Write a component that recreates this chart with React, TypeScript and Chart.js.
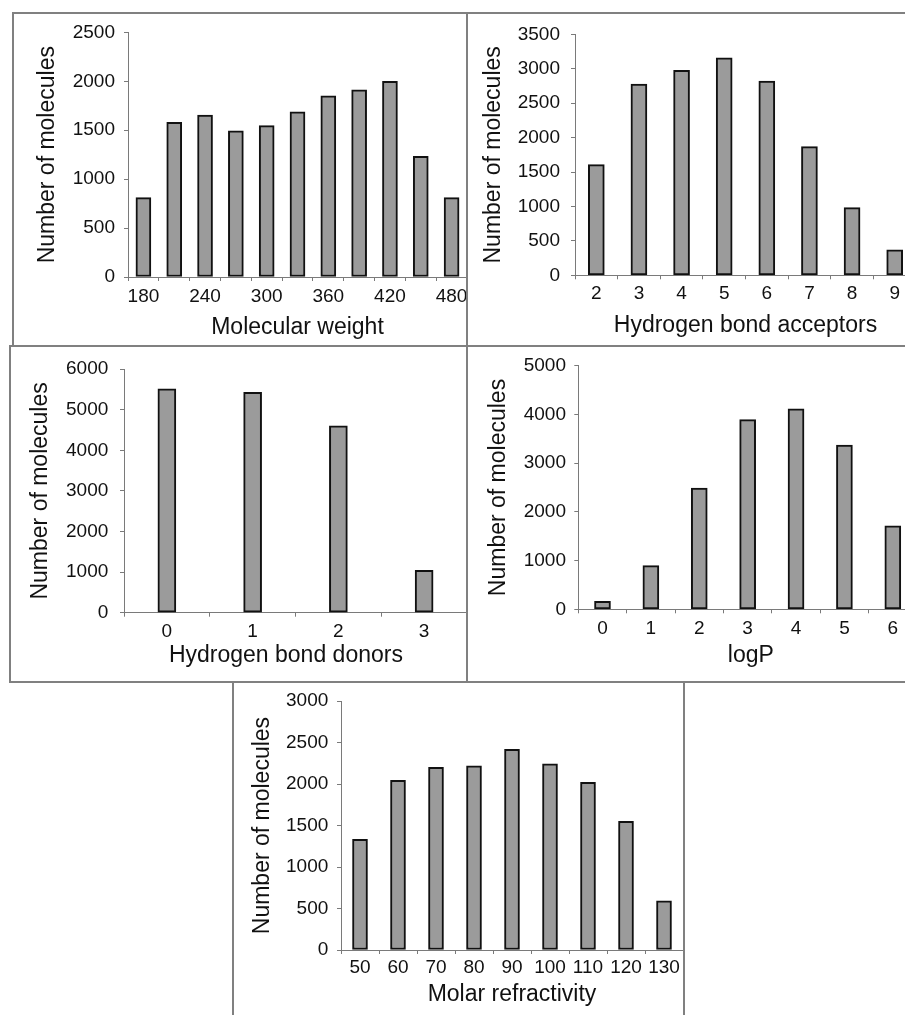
import React, { useEffect, useRef } from "react";
import { Chart, registerables } from "chart.js";

Chart.register(...registerables);
Chart.defaults.font.family = "'Liberation Sans', Arial, Helvetica, sans-serif";
Chart.defaults.color = "#111";

// ---------- data ----------
const yAxisTitle = "Number of molecules";

const mwLabels = ["180", "210", "240", "270", "300", "330", "360", "390", "420", "450", "480"];
const mwValues = [811, 1581, 1655, 1493, 1547, 1689, 1851, 1912, 2000, 1233, 811];

const hbaLabels = ["2", "3", "4", "5", "6", "7", "8", "9"];
const hbaValues = [1607, 2777, 2977, 3158, 2820, 1869, 984, 371];

const hbdLabels = ["0", "1", "2", "3"];
const hbdValues = [5517, 5429, 4601, 1046];

const logpLabels = ["0", "1", "2", "3", "4", "5", "6"];
const logpValues = [163, 897, 2486, 3893, 4117, 3370, 1712];

const mrLabels = ["50", "60", "70", "80", "90", "100", "110", "120", "130"];
const mrValues = [1335, 2044, 2203, 2219, 2418, 2243, 2020, 1550, 594];

// ---------- layout / style per panel ----------
type PanelCfg = {
  labels: string[];
  values: number[];
  xTitle: string;
  yMax: number;
  yStep: number;
  everyOther?: boolean;
  // canvas box (page coords)
  cl: number; ct: number; cw: number; ch: number;
  // chart area (page coords)
  ax: number; top: number; bottom: number; right: number;
  barW: number;
  yTickPad: number; xTickPad: number;
  yTitlePad: number; xTitlePad: number;
};

const panels: PanelCfg[] = [
  {
    labels: mwLabels, values: mwValues, xTitle: "Molecular weight", yMax: 2500, yStep: 500, everyOther: true,
    cl: 13, ct: 12, cw: 474, ch: 334, ax: 128, top: 30, bottom: 277, right: 467,
    barW: 15, yTickPad: 9, xTickPad: 4.5, yTitlePad: 20.6, xTitlePad: 4.7,
  },
  {
    labels: hbaLabels, values: hbaValues, xTitle: "Hydrogen bond acceptors", yMax: 3500, yStep: 500,
    cl: 467, ct: 12, cw: 449, ch: 334, ax: 575, top: 30, bottom: 275.3, right: 916,
    barW: 16, yTickPad: 11, xTickPad: 3, yTitlePad: 13, xTitlePad: 6.8,
  },
  {
    labels: hbdLabels, values: hbdValues, xTitle: "Hydrogen bond donors   ", yMax: 6000, yStep: 1000,
    cl: 10, ct: 346, cw: 477, ch: 336, ax: 124, top: 364, bottom: 612.7, right: 467,
    barW: 18, yTickPad: 11.7, xTickPad: 3.6, yTitlePad: 16.6, xTitlePad: 12.8,
  },
  {
    labels: logpLabels, values: logpValues, xTitle: " logP", yMax: 5000, yStep: 1000,
    cl: 467, ct: 346, cw: 450, ch: 336, ax: 578.3, top: 364, bottom: 609.3, right: 917,
    barW: 16, yTickPad: 8.3, xTickPad: 3.6, yTitlePad: 18, xTitlePad: 12.8,
  },
  {
    labels: mrLabels, values: mrValues, xTitle: "Molar refractivity", yMax: 3000, yStep: 500,
    cl: 233, ct: 681, cw: 471, ch: 334, ax: 341, top: 699, bottom: 950, right: 683,
    barW: 15, yTickPad: 8.7, xTickPad: 2.6, yTitlePad: 16, xTitlePad: 6.8,
  },
];

const AXIS_COLOR = "#7a7a7a";
const BAR_FILL = "#9b9b9b";
const BAR_EDGE = "#111";
const FRAME = "#808080";

function Panel({ cfg }: { cfg: PanelCfg }) {
  const ref = useRef<HTMLCanvasElement | null>(null);
  useEffect(() => {
    if (!ref.current) return;
    const yW = cfg.ax - cfg.cl;
    const xH = cfg.ct + cfg.ch - cfg.bottom;
    const padTop = cfg.top - cfg.ct;
    const padRight = cfg.cl + cfg.cw - cfg.right;
    const chart = new Chart(ref.current, {
      type: "bar",
      data: {
        labels: cfg.labels,
        datasets: [
          {
            data: cfg.values,
            backgroundColor: BAR_FILL,
            borderColor: BAR_EDGE,
            borderWidth: 2,
            borderSkipped: false,
            barThickness: cfg.barW,
          },
        ],
      },
      options: {
        animation: false,
        responsive: false,
        maintainAspectRatio: false,
        layout: { padding: { left: 0, top: padTop, right: padRight, bottom: 0 } },
        plugins: { legend: { display: false }, tooltip: { enabled: false } },
        scales: {
          x: {
            type: "category",
            offset: true,
            grid: { offset: true, drawOnChartArea: false, drawTicks: true, tickLength: 4, color: AXIS_COLOR, lineWidth: 1 },
            border: { display: true, color: AXIS_COLOR, width: 1 },
            ticks: {
              autoSkip: false,
              maxRotation: 0,
              minRotation: 0,
              padding: cfg.xTickPad,
              font: { size: 19 },
              color: "#111",
              callback: function (this: any, value: any, index: number) {
                if (cfg.everyOther && index % 2 === 1) return "";
                return this.getLabelForValue(value);
              },
            },
            title: {
              display: true,
              text: cfg.xTitle,
              font: { size: 23, lineHeight: 1.2 },
              color: "#111",
              padding: { top: 0, bottom: cfg.xTitlePad },
            },
            afterFit: (s: any) => {
              s.height = xH;
            },
          },
          y: {
            type: "linear",
            min: 0,
            max: cfg.yMax,
            grid: { drawOnChartArea: false, drawTicks: true, tickLength: 4, color: AXIS_COLOR, lineWidth: 1 },
            border: { display: true, color: AXIS_COLOR, width: 1 },
            ticks: {
              stepSize: cfg.yStep,
              padding: cfg.yTickPad,
              font: { size: 19 },
              color: "#111",
              callback: (v: any) => String(v),
            },
            title: {
              display: true,
              text: yAxisTitle,
              font: { size: 23, lineHeight: 1.2 },
              color: "#111",
              padding: { top: cfg.yTitlePad, bottom: 0 },
            },
            afterFit: (s: any) => {
              s.width = yW;
            },
          },
        },
      },
    } as any);
    return () => chart.destroy();
  }, [cfg]);
  return (
    <canvas
      ref={ref}
      width={cfg.cw}
      height={cfg.ch}
      style={{ position: "absolute", left: cfg.cl, top: cfg.ct, width: cfg.cw, height: cfg.ch }}
    />
  );
}

type Line = { x: number; y: number; w: number; h: number };
const frameLines: Line[] = [
  { x: 12, y: 12, w: 893, h: 2 }, // top
  { x: 12, y: 12, w: 2, h: 335 }, // left of top-left panel
  { x: 466, y: 12, w: 2, h: 671 }, // central divider
  { x: 9, y: 345, w: 896, h: 2 }, // middle horizontal
  { x: 9, y: 345, w: 2, h: 338 }, // left of middle-left panel
  { x: 9, y: 681, w: 896, h: 2 }, // lower horizontal
  { x: 232, y: 681, w: 2, h: 334 }, // bottom panel left
  { x: 683, y: 681, w: 2, h: 334 }, // bottom panel right
];

export default function App() {
  return (
    <div
      style={{
        position: "fixed",
        left: 0,
        top: 0,
        width: 905,
        height: 1015,
        overflow: "hidden",
        background: "#fff",
      }}
    >
      {panels.map((p, i) => (
        <Panel key={i} cfg={p} />
      ))}
      {frameLines.map((l, i) => (
        <div
          key={"l" + i}
          style={{ position: "absolute", left: l.x, top: l.y, width: l.w, height: l.h, background: FRAME }}
        />
      ))}
    </div>
  );
}
